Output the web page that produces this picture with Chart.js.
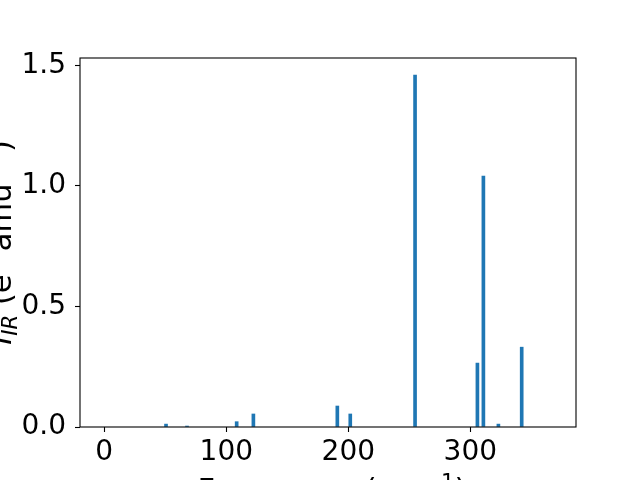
<!DOCTYPE html>
<html>
<head>
<meta charset="utf-8">
<script src="https://cdn.jsdelivr.net/npm/chart.js@4"></script>
<style>
html,body{margin:0;padding:0;background:#fff;overflow:hidden;}
canvas{display:block;}
</style>
</head>
<body>
<canvas id="c" width="640" height="480"></canvas>
<script>
// Data
const frequencies = [50.6, 67.8, 108.5, 122.2, 191.0, 201.6, 254.7, 305.8, 310.7, 323.0, 342.1];
const intensities = [0.012, 0.004, 0.022, 0.054, 0.087, 0.054, 1.459, 0.265, 1.040, 0.012, 0.331];
const xTickValues = [0, 100, 200, 300];
const yTickValues = [0.0, 0.5, 1.0, 1.5];
const xLabelParts = [{t:'Frequency (cm'}, {t:'−1', sup:true}, {t:')'}];
const yLabelParts = [{t:'I', italic:true}, {t:'IR', italic:true, sub:true}, {t:' (e'}, {t:'2', sup:true}, {t:' amu'}, {t:'−1', sup:true}, {t:')'}];

const FONT = 'DejaVu Sans';
const FS = 28;      // tick label size
const LFS = 30.5;   // axis label size

function drawRich(ctx, parts, cx, cy, rot) {
  ctx.save();
  ctx.translate(cx, cy);
  ctx.rotate(rot);
  ctx.fillStyle = '#000';
  ctx.textBaseline = 'alphabetic';
  ctx.textAlign = 'left';
  const fontFor = p => (p.italic ? 'italic ' : '') + ((p.sup || p.sub) ? LFS * 0.7 : LFS).toFixed(1) + 'px "' + FONT + '"';
  let total = 0;
  parts.forEach(p => { ctx.font = fontFor(p); p.w = ctx.measureText(p.t).width; total += p.w; });
  let x = -total / 2;
  parts.forEach(p => {
    ctx.font = fontFor(p);
    let dy = 0;
    if (p.sup) dy = -LFS * 0.37;
    if (p.sub) dy = LFS * 0.2;
    ctx.fillText(p.t, x, dy);
    x += p.w;
  });
  ctx.restore();
}

const framePlugin = {
  id: 'frame',
  afterDraw(chart) {
    const {ctx, chartArea: a} = chart;
    ctx.save();
    ctx.strokeStyle = '#000';
    ctx.lineWidth = 1.1;
    ctx.strokeRect(a.left, a.top, a.right - a.left, a.bottom - a.top);
    ctx.restore();
    const cxm = (a.left + a.right) / 2;
    const cym = (a.top + a.bottom) / 2;
    drawRich(ctx, xLabelParts, cxm + 4, a.bottom + 73, 0);
    drawRich(ctx, yLabelParts, 11, cym, -Math.PI / 2);
  }
};

new Chart(document.getElementById('c'), {
  type: 'bar',
  data: {
    datasets: [{
      data: frequencies.map((f, i) => ({x: f, y: intensities[i]})),
      backgroundColor: '#1f77b4',
      borderWidth: 0,
      barThickness: 3
    }]
  },
  options: {
    responsive: false,
    animation: false,
    devicePixelRatio: 1,
    layout: {padding: {left: 0, top: 58, right: 64, bottom: 0}},
    plugins: {legend: {display: false}, tooltip: {enabled: false}},
    scales: {
      x: {
        type: 'linear',
        min: -19.9,
        max: 386.6,
        offset: false,
        afterFit(s) { s.height = 53; },
        afterBuildTicks(s) { s.ticks = xTickValues.map(v => ({value: v})); },
        grid: {display: true, drawOnChartArea: false, drawTicks: true, tickLength: 5, color: '#000', tickWidth: 1.1, offset: false},
        border: {display: false},
        ticks: {font: {family: FONT, size: FS}, color: '#000', padding: 4, maxRotation: 0, autoSkip: false,
                callback: v => String(v)}
      },
      y: {
        min: 0,
        max: 1.530,
        afterFit(s) { s.width = 80; },
        afterBuildTicks(s) { s.ticks = yTickValues.map(v => ({value: v})); },
        grid: {display: true, drawOnChartArea: false, drawTicks: true, tickLength: 5, color: '#000', tickWidth: 1.1},
        border: {display: false},
        ticks: {font: {family: FONT, size: FS}, color: '#000', padding: 9, autoSkip: false,
                callback: v => Number(v).toFixed(1)}
      }
    }
  },
  plugins: [framePlugin]
});
</script>
</body>
</html>
